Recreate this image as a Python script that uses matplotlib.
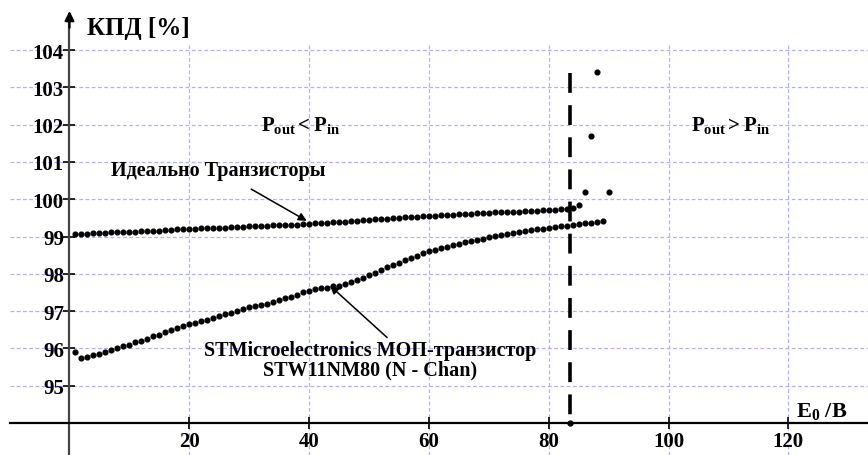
import matplotlib
matplotlib.use("Agg")
import matplotlib.pyplot as plt
import numpy as np

plt.rcParams['font.family'] = ['Liberation Serif', 'DejaVu Serif']
plt.rcParams['font.weight'] = 'bold'
plt.rcParams['mathtext.fontset'] = 'custom'
plt.rcParams['mathtext.rm'] = 'Liberation Serif'
plt.rcParams['mathtext.bf'] = 'Liberation Serif:bold'
plt.rcParams['mathtext.it'] = 'Liberation Serif:italic'

# E0, В  (шаг 1 В)
ideal_e0 = list(range(1, 89)) + [90]
ideal_kpd = [
    99.07, 99.08, 99.08, 99.09, 99.10, 99.10, 99.11, 99.11, 99.12, 99.13,
    99.13, 99.14, 99.15, 99.15, 99.16, 99.17, 99.18, 99.19, 99.20, 99.21,
    99.21, 99.22, 99.22, 99.23, 99.24, 99.24, 99.25, 99.26, 99.26, 99.27,
    99.28, 99.28, 99.29, 99.30, 99.30, 99.31, 99.32, 99.32, 99.33, 99.34,
    99.35, 99.36, 99.37, 99.38, 99.39, 99.40, 99.41, 99.42, 99.44, 99.45,
    99.46, 99.47, 99.48, 99.49, 99.50, 99.51, 99.52, 99.53, 99.54, 99.55,
    99.56, 99.57, 99.58, 99.59, 99.60, 99.60, 99.61, 99.62, 99.63, 99.64,
    99.65, 99.65, 99.66, 99.67, 99.67, 99.68, 99.69, 99.69, 99.70, 99.71,
    99.72, 99.73, 99.74, 99.76, 99.84, 100.2, 101.7, 103.4, 100.2,
]

stm_e0 = list(range(1, 90))
stm_kpd = [
    95.89, 95.74, 95.78, 95.82, 95.86, 95.91, 95.96, 96.01, 96.06, 96.10,
    96.16, 96.21, 96.26, 96.32, 96.37, 96.43, 96.48, 96.54, 96.60, 96.65,
    96.69, 96.73, 96.77, 96.81, 96.86, 96.91, 96.96, 97.01, 97.06, 97.10,
    97.13, 97.16, 97.20, 97.25, 97.29, 97.34, 97.38, 97.44, 97.50, 97.55,
    97.58, 97.61, 97.63, 97.66, 97.68, 97.72, 97.78, 97.83, 97.90, 97.96,
    98.02, 98.09, 98.17, 98.24, 98.30, 98.37, 98.43, 98.49, 98.55, 98.60,
    98.64, 98.69, 98.73, 98.77, 98.81, 98.84, 98.88, 98.91, 98.94, 98.98,
    99.01, 99.04, 99.07, 99.10, 99.12, 99.14, 99.17, 99.19, 99.21, 99.23,
    99.25, 99.27, 99.29, 99.31, 99.33, 99.35, 99.37, 99.39, 99.41,
]

x_ticks = [20, 40, 60, 80, 100, 120]
y_ticks = [95, 96, 97, 98, 99, 100, 101, 102, 103, 104]
e_limit = 83.6  # граница Pout = Pin

fig = plt.figure(figsize=(8.68, 4.56), dpi=100)
ax = fig.add_axes([0, 0, 1, 1])
ax.set_xlim(-11.6, 133.3)
ax.set_ylim(93.14, 105.37)

# сетка
grid_col = '#b0b0ff'
ax.hlines(y_ticks, -10, 133.3, colors=grid_col, linestyles=(0, (3, 2)), lw=0.9, zorder=1)
ax.vlines(x_ticks, 93.14, 104.2, colors=grid_col, linestyles=(0, (3, 2)), lw=0.9, zorder=1)

# оси
for s in ['top', 'right']:
    ax.spines[s].set_visible(False)
ax.spines['left'].set_position(('data', 0))
ax.spines['bottom'].set_position(('data', 94))
ax.spines['left'].set_bounds(93.14, 104.8)
ax.spines['bottom'].set_bounds(-10, 133.3)
ax.spines['left'].set_color('#444444')
ax.spines['left'].set_linewidth(1.6)
ax.spines['bottom'].set_linewidth(1.6)
ax.annotate('', xy=(0, 105.05), xytext=(0, 104.6),
            arrowprops=dict(arrowstyle='-|>', color='black', lw=1.6,
                            mutation_scale=14, shrinkA=0, shrinkB=0))

ax.set_xticks(x_ticks)
ax.set_yticks(y_ticks)
ax.tick_params(direction='inout', length=8, width=1.2, labelsize=15)
ax.tick_params(axis='y', pad=0)
ax.tick_params(axis='x', pad=2)

# кривые
ax.plot(ideal_e0, ideal_kpd, 'o', color='black', ms=3.4, zorder=4)
ax.plot(stm_e0, stm_kpd, 'o', color='black', ms=3.4, zorder=4)

# граница (рисуем сверху вниз, чтобы штрих начинался у верха)
ax.plot([e_limit, e_limit], [103.38, 94], color='black', lw=2.6,
        linestyle=(0, (5.5, 3.4)), zorder=3)
ax.plot(e_limit, 94, 'o', color='black', ms=3.5, zorder=5)

# подписи
ax.text(3, 104.6, 'КПД [%]', fontsize=18, fontweight='bold', ha='left', va='center')
ax.text(125.5, 94.05, r'$\mathbf{E_0}$ /B', fontsize=16, fontweight='bold',
        ha='center', va='bottom')
ax.text(38.5, 102.0, r'$\mathbf{P_{out}} < \mathbf{P_{in}}$', fontsize=15,
        ha='center', va='center')
ax.text(110.4, 102.0, r'$\mathbf{P_{out}} > \mathbf{P_{in}}$', fontsize=15,
        ha='center', va='center')

ax.annotate('Идеально Транзисторы', xy=(39.6, 99.42), xytext=(24.8, 100.78),
            fontsize=14.5, fontweight='bold', ha='center', va='center',
            arrowprops=dict(arrowstyle='-|>', color='black', lw=1.1,
                            mutation_scale=12, shrinkA=9, shrinkB=0))
ax.annotate('STMicroelectronics МОП-транзистор\nSTW11NM80 (N - Chan)',
            xy=(43.5, 97.68), xytext=(50.2, 95.69),
            fontsize=14.5, fontweight='bold', ha='center', va='center', linespacing=0.95,
            arrowprops=dict(arrowstyle='-|>', color='black', lw=1.1,
                            mutation_scale=12, shrinkA=0, shrinkB=0,
                            relpos=(0.56, 1.0)))

fig.savefig('out.png', dpi=100)
